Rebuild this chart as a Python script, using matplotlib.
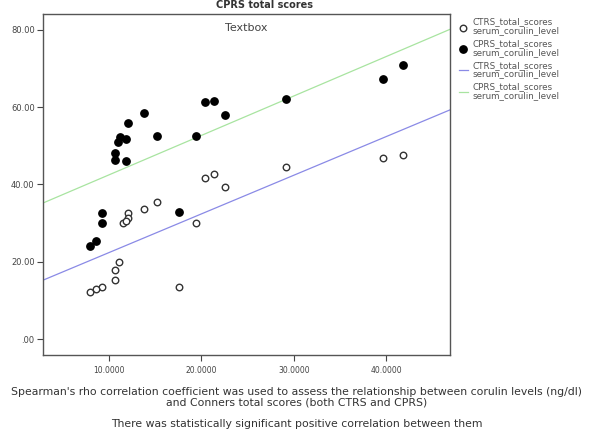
import numpy as np
import matplotlib
matplotlib.use("Agg")
import matplotlib.pyplot as plt

# Data
cprs_x = [41.8, 39.7, 29.2, 20.4, 21.4, 22.6, 13.8, 12.0, 15.2, 19.4, 11.2, 11.8, 11.0,
          10.6, 10.6, 11.8, 9.2, 9.2, 17.6, 8.6, 7.9]
cprs_y = [71.0, 67.3, 62.1, 61.4, 61.6, 58.0, 58.5, 56.0, 52.5, 52.5, 52.4, 51.7, 51.1,
          48.1, 46.4, 46.0, 32.7, 30.1, 32.9, 25.5, 24.1]
ctrs_x = [41.8, 39.7, 29.2, 20.4, 21.4, 22.6, 15.2, 13.8, 12.0, 12.0, 11.5, 19.4, 11.8,
          11.1, 10.6, 10.6, 9.2, 8.6, 7.9, 17.6]
ctrs_y = [47.7, 46.9, 44.5, 41.6, 42.7, 39.3, 35.6, 33.7, 32.7, 31.3, 30.1, 30.0, 30.6,
          20.0, 17.9, 15.3, 13.4, 12.9, 12.3, 13.6]

# Fit lines (intercept, slope)
ctrs_fit = [12.4, 1.0]
cprs_fit = [32.3, 1.02]

x_ticks = [10, 20, 30, 40]
x_ticklabels = ["10.0000", "20.0000", "30.0000", "40.0000"]
y_ticks = [0, 20, 40, 60, 80]
y_ticklabels = [".00", "20.00", "40.00", "60.00", "80.00"]

legend_labels = ["CTRS_total_scores\nserum_corulin_level",
                 "CPRS_total_scores\nserum_corulin_level",
                 "CTRS_total_scores\nserum_corulin_level",
                 "CPRS_total_scores\nserum_corulin_level"]

title = "CPRS total scores"
note1 = ("Spearman's rho correlation coefficient was used to assess the relationship between corulin levels (ng/dl)\n"
         "and Conners total scores (both CTRS and CPRS)")
note2 = "There was statistically significant positive correlation between them"

fig = plt.figure(figsize=(5.93, 4.36), dpi=100)
ax = fig.add_axes([43/593, 1-355/436, (450-43)/593, (355-14)/436])

xmin, xmax = 2.85, 46.9
ax.set_xlim(xmin, xmax)
ax.set_ylim(-4.1, 84.1)

xs = np.array([xmin, xmax])
l_ctrs, = ax.plot(xs, ctrs_fit[0] + ctrs_fit[1]*xs, color="#8a8ae6", lw=0.9)
l_cprs, = ax.plot(xs, cprs_fit[0] + cprs_fit[1]*xs, color="#a8e4a0", lw=0.9)

s_ctrs = ax.scatter(ctrs_x, ctrs_y, s=22, facecolors="white", edgecolors="#333333", linewidths=1.0, zorder=3)
s_cprs = ax.scatter(cprs_x, cprs_y, s=28, color="black", zorder=3)

ax.set_xticks(x_ticks)
ax.set_xticklabels(x_ticklabels, fontsize=5.5, color="#444444")
ax.set_yticks(y_ticks)
ax.set_yticklabels(y_ticklabels, fontsize=6, color="#444444")
ax.tick_params(length=4, width=0.8, color="#444444", pad=2)
ax.tick_params(axis="x", pad=4)
for sp in ax.spines.values():
    sp.set_color("#555555")
    sp.set_linewidth(1.0)

ax.text(0.5, 0.975, "Textbox", transform=ax.transAxes, ha="center", va="top",
        fontsize=8, color="#444444")

fig.legend([s_ctrs, s_cprs, l_ctrs, l_cprs], legend_labels,
           loc="upper left", bbox_to_anchor=(455/593, 1-14/436),
           frameon=False, fontsize=6.3, handlelength=1.1, handletextpad=0.5,
           labelspacing=0.45, borderaxespad=0, labelcolor="#555555")
for t in fig.legends[0].get_texts():
    t.set_linespacing(0.95)

fig.text(265/593, 1-5/436, title, ha="center", va="center", fontsize=7,
         fontweight="bold", color="#333333")
fig.text(0.5, 1-397/436, note1, ha="center", va="center", fontsize=7.8,
         color="#333333", linespacing=1.0)
fig.text(0.5, 1-424/436, note2, ha="center", va="center", fontsize=7.8,
         color="#333333")

fig.savefig("out.png", dpi=100)
